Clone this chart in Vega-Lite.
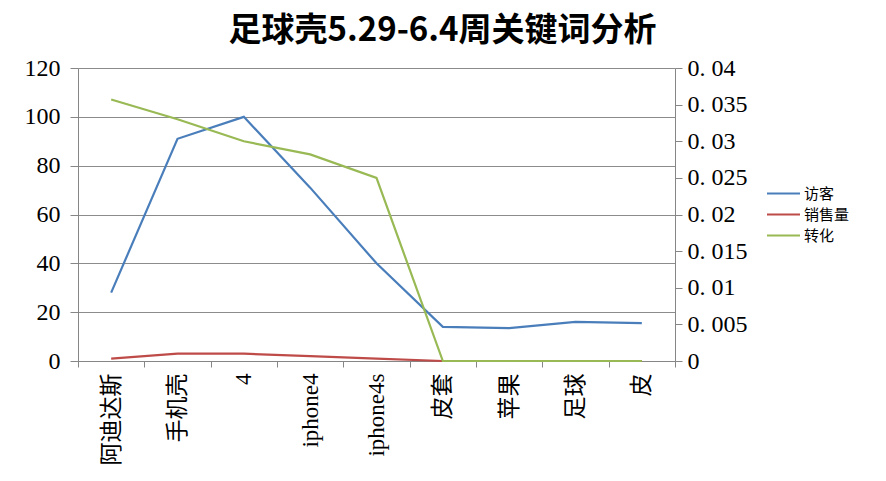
{
  "$schema": "https://vega.github.io/schema/vega-lite/v6.json",
  "width": 597,
  "height": 293,
  "autosize": "none",
  "padding": {"left": 78, "top": 68, "right": 211, "bottom": 120},
  "background": "white",
  "title": {
    "text": "足球壳5.29-6.4周关键词分析",
    "font": "Noto Sans CJK SC",
    "fontSize": 33,
    "fontWeight": "bold",
    "color": "#000000",
    "anchor": "middle",
    "dx": 66,
    "offset": 8
  },
  "data": {
    "values": [
      {"keyword": "阿迪达斯", "series": "访客", "value": 28},
      {"keyword": "手机壳", "series": "访客", "value": 91},
      {"keyword": "4", "series": "访客", "value": 100},
      {"keyword": "iphone4", "series": "访客", "value": 71},
      {"keyword": "iphone4s", "series": "访客", "value": 40},
      {"keyword": "皮套", "series": "访客", "value": 14},
      {"keyword": "苹果", "series": "访客", "value": 13.5},
      {"keyword": "足球", "series": "访客", "value": 16},
      {"keyword": "皮", "series": "访客", "value": 15.5},
      {"keyword": "阿迪达斯", "series": "销售量", "value": 1},
      {"keyword": "手机壳", "series": "销售量", "value": 3},
      {"keyword": "4", "series": "销售量", "value": 3},
      {"keyword": "iphone4", "series": "销售量", "value": 2},
      {"keyword": "iphone4s", "series": "销售量", "value": 1},
      {"keyword": "皮套", "series": "销售量", "value": 0},
      {"keyword": "苹果", "series": "销售量", "value": 0},
      {"keyword": "足球", "series": "销售量", "value": 0},
      {"keyword": "皮", "series": "销售量", "value": 0},
      {"keyword": "阿迪达斯", "series": "转化", "value": 0.0357},
      {"keyword": "手机壳", "series": "转化", "value": 0.033},
      {"keyword": "4", "series": "转化", "value": 0.03},
      {"keyword": "iphone4", "series": "转化", "value": 0.0282},
      {"keyword": "iphone4s", "series": "转化", "value": 0.025},
      {"keyword": "皮套", "series": "转化", "value": 0},
      {"keyword": "苹果", "series": "转化", "value": 0},
      {"keyword": "足球", "series": "转化", "value": 0},
      {"keyword": "皮", "series": "转化", "value": 0}
    ]
  },
  "encoding": {
    "x": {
      "field": "keyword",
      "type": "nominal",
      "sort": ["阿迪达斯", "手机壳", "4", "iphone4", "iphone4s", "皮套", "苹果", "足球", "皮"],
      "scale": {"type": "band", "paddingInner": 0, "paddingOuter": 0},
      "axis": {
        "title": null,
        "labelAngle": -90,
        "labelFont": "'Liberation Serif', 'Noto Sans CJK SC'",
        "labelFontSize": 23,
        "labelColor": "#000000",
        "labelPadding": 6,
        "tickBand": "extent",
        "tickSize": 6,
        "tickColor": "#868686",
        "domainColor": "#868686",
        "grid": false
      }
    },
    "color": {
      "field": "series",
      "type": "nominal",
      "scale": {"domain": ["访客", "销售量", "转化"], "range": ["#4a7ebb", "#be4b48", "#98b954"]},
      "legend": {
        "title": null,
        "orient": "none",
        "legendX": 698,
        "legendY": 118,
        "padding": 0,
        "symbolType": "M-3,0H3",
        "symbolSize": 121,
        "symbolStrokeWidth": 2,
        "labelOffset": 13,
        "labelFont": "Noto Sans CJK SC",
        "labelFontSize": 15,
        "labelColor": "#000000",
        "rowPadding": 5
      }
    }
  },
  "layer": [
    {
      "transform": [{"filter": "datum.series !== '转化'"}],
      "mark": {"type": "line", "strokeWidth": 2.2},
      "encoding": {
        "y": {
          "field": "value",
          "type": "quantitative",
          "scale": {"domain": [0, 120]},
          "axis": {
            "title": null,
            "values": [0, 20, 40, 60, 80, 100, 120],
            "labelFont": "Liberation Serif",
            "labelFontSize": 24,
            "labelColor": "#000000",
            "labelPadding": 10,
            "tickSize": 8,
            "tickColor": "#868686",
            "domainColor": "#868686",
            "grid": true,
            "gridColor": "#8c8c8c",
            "gridWidth": 1.2
          }
        }
      }
    },
    {
      "transform": [{"filter": "datum.series === '转化'"}],
      "mark": {"type": "line", "strokeWidth": 2.2},
      "encoding": {
        "y": {
          "field": "value",
          "type": "quantitative",
          "scale": {"domain": [0, 0.04]},
          "axis": {
            "title": null,
            "orient": "right",
            "values": [0, 0.005, 0.01, 0.015, 0.02, 0.025, 0.03, 0.035, 0.04],
            "labelExpr": "replace(format(datum.value, '~g'), '.', '. ')",
            "labelFont": "Liberation Serif",
            "labelFontSize": 24,
            "labelColor": "#000000",
            "labelPadding": 5,
            "tickSize": 7,
            "tickColor": "#868686",
            "domainColor": "#868686",
            "grid": false
          }
        }
      }
    }
  ],
  "resolve": {"scale": {"y": "independent"}},
  "config": {"view": {"stroke": null}}
}
